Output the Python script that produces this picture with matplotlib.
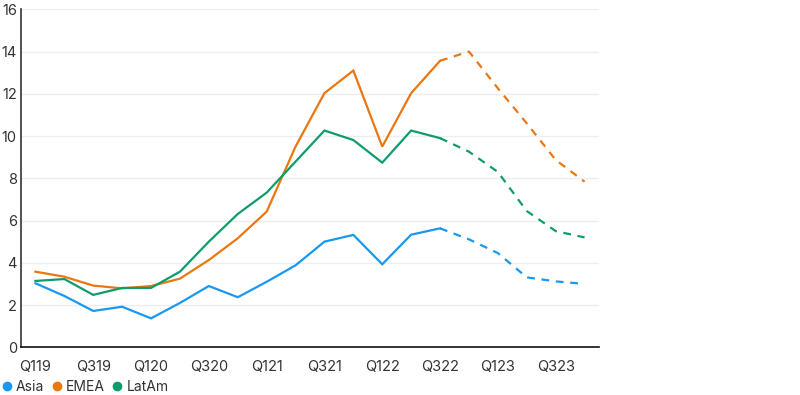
import matplotlib

matplotlib.use("Agg")
import matplotlib.pyplot as plt
from matplotlib.lines import Line2D

plt.rcParams["font.family"] = ["Inter", "DejaVu Sans"]

quarters = [
    "Q119", "Q219", "Q319", "Q419",
    "Q120", "Q220", "Q320", "Q420",
    "Q121", "Q221", "Q321", "Q421",
    "Q122", "Q222", "Q322", "Q422",
    "Q123", "Q223", "Q323", "Q423",
]
asia = [3.03, 2.43, 1.72, 1.92, 1.37, 2.1, 2.9, 2.37, 3.1, 3.88,
        5.0, 5.32, 3.93, 5.33, 5.63, 5.11, 4.46, 3.31, 3.12, 3.0]
emea = [3.58, 3.34, 2.92, 2.79, 2.9, 3.25, 4.13, 5.16, 6.42, 9.5,
        12.03, 13.1, 9.5, 12.03, 13.56, 14.0, 12.26, 10.6, 8.87, 7.84]
latam = [3.14, 3.23, 2.48, 2.81, 2.81, 3.58, 5.0, 6.31, 7.32, 8.79,
         10.26, 9.81, 8.74, 10.26, 9.9, 9.26, 8.3, 6.45, 5.5, 5.2]
series_names = ["Asia", "EMEA", "LatAm"]
colors = ["#1898F2", "#EB7710", "#0F9C6B"]
last_actual = "Q322"  # forecast (dashed) from here on
y_ticks = [0, 2, 4, 6, 8, 10, 12, 14, 16]

fig = plt.figure(figsize=(8, 3.95), dpi=100)
ax = fig.add_axes([0.02625, 0.1208, 0.7225, 0.8557])

split = quarters.index(last_actual)
x = list(range(len(quarters)))
for values, color in zip([asia, emea, latam], colors):
    ax.plot(x[: split + 1], values[: split + 1], color=color, lw=1.6,
            solid_joinstyle="miter")
    ax.plot(x[split:], values[split:], color=color, lw=1.6,
            linestyle=(0, (3.5, 3)))

ax.set_xlim(-0.5, len(quarters) - 0.5)
ax.set_ylim(y_ticks[0], y_ticks[-1])
ax.set_yticks(y_ticks)
ax.set_xticks(x[::2], quarters[::2])
ax.grid(axis="y", color="#eeeeee", lw=1)
ax.set_axisbelow(True)
ax.tick_params(axis="both", length=0, labelsize=10.5, colors="#333333")
ax.tick_params(axis="x", pad=9)
ax.tick_params(axis="y", pad=3)
for side in ("top", "right"):
    ax.spines[side].set_visible(False)
ax.spines["left"].set_color("#333333")
ax.spines["bottom"].set_color("#111111")
ax.spines["left"].set_linewidth(1.2)
ax.spines["bottom"].set_linewidth(1.2)

handles = [Line2D([], [], marker="o", ls="none", color=c, markersize=6)
           for c in colors]
fig.legend(handles, series_names, loc="lower left", bbox_to_anchor=(-0.013, -0.028),
           ncol=3, frameon=False, fontsize=10, handlelength=0.7, handletextpad=0.3,
           columnspacing=0.55, labelcolor="#333333")

fig.savefig("out.png", dpi=100, facecolor="white")
